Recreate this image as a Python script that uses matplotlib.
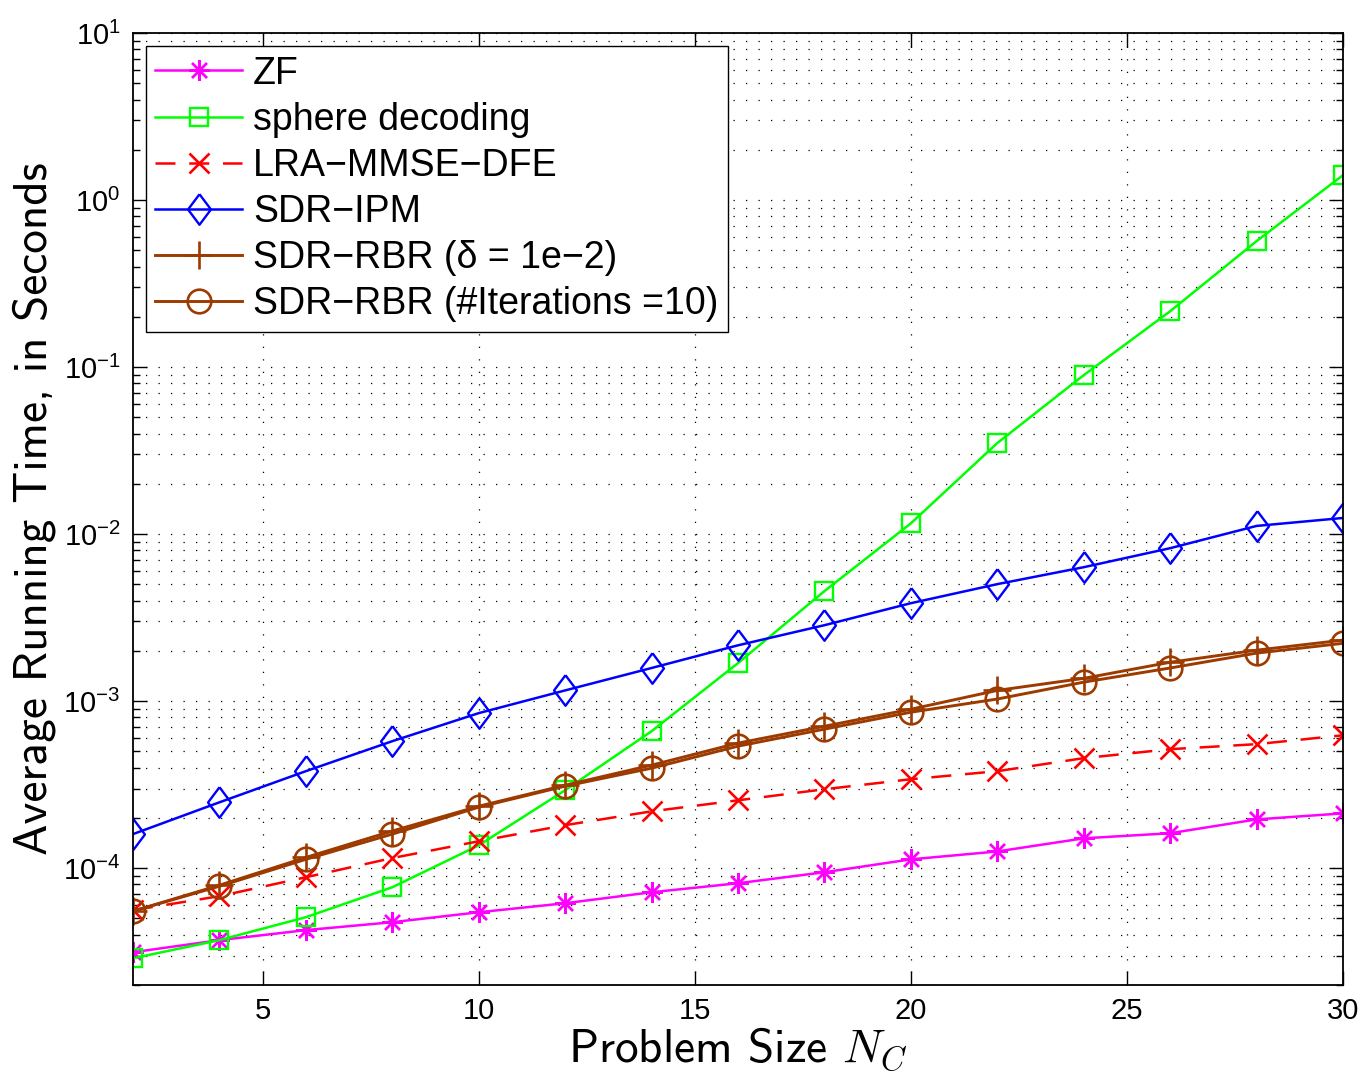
import matplotlib
matplotlib.use("Agg")
import matplotlib.pyplot as plt

# problem sizes
n_c = [2, 4, 6, 8, 10, 12, 14, 16, 18, 20, 22, 24, 26, 28, 30]

# average running time in seconds
zf = [3.14e-5, 3.71e-5, 4.26e-5, 4.75e-5, 5.45e-5, 6.17e-5, 7.18e-5, 8.13e-5,
      9.46e-5, 1.13e-4, 1.26e-4, 1.51e-4, 1.62e-4, 1.96e-4, 2.13e-4]
sphere = [2.89e-5, 3.71e-5, 5.09e-5, 7.69e-5, 1.37e-4, 2.93e-4, 6.61e-4, 1.69e-3,
          4.56e-3, 1.16e-2, 3.51e-2, 8.95e-2, 0.216, 0.568, 1.41]
lra = [5.61e-5, 6.80e-5, 8.83e-5, 1.15e-4, 1.45e-4, 1.81e-4, 2.19e-4, 2.55e-4,
       2.97e-4, 3.41e-4, 3.81e-4, 4.56e-4, 5.16e-4, 5.53e-4, 6.25e-4]
sdr_ipm = [1.60e-4, 2.48e-4, 3.81e-4, 5.76e-4, 8.48e-4, 1.16e-3, 1.58e-3, 2.16e-3,
           2.85e-3, 3.86e-3, 5.02e-3, 6.34e-3, 8.24e-3, 1.12e-2, 1.25e-2]
rbr_delta = [5.53e-5, 7.91e-5, 1.16e-4, 1.67e-4, 2.35e-4, 3.14e-4, 4.14e-4, 5.61e-4,
             7.08e-4, 8.95e-4, 1.16e-3, 1.37e-3, 1.71e-3, 2.02e-3, 2.32e-3]
rbr_iter = [5.53e-5, 7.80e-5, 1.13e-4, 1.60e-4, 2.32e-4, 3.10e-4, 3.97e-4, 5.38e-4,
            6.80e-4, 8.59e-4, 1.03e-3, 1.30e-3, 1.58e-3, 1.94e-3, 2.22e-3]

x_ticks = [5, 10, 15, 20, 25, 30]

plt.rcParams['font.family'] = ['Liberation Sans', 'DejaVu Sans']
plt.rcParams['mathtext.default'] = 'regular'

brown = '#9C3A00'
diamond = [(0, 1), (0.75, 0), (0, -1), (-0.75, 0), (0, 1)]

fig = plt.figure(figsize=(13.65, 10.76), dpi=100)
ax = fig.add_axes([0.0974, 0.0846, 0.8865, 0.8847])

ax.plot(n_c, zf, color='magenta', lw=1.8, marker=(8, 2, 0), ms=15, mew=1.7,
        label='ZF')
ax.plot(n_c, sphere, color='#00FF00', lw=1.8, marker='s', ms=13, mew=1.7,
        mfc='none', label='sphere decoding')
ax.plot(n_c, lra, color='red', lw=1.8, ls=(0, (8, 5.5)), marker='x', ms=15, mew=1.9,
        label='LRA\u2212MMSE\u2212DFE')
ax.plot(n_c, sdr_ipm, color='blue', lw=1.8, marker=diamond, ms=22, mew=1.7,
        mfc='none', label='SDR\u2212IPM')
ax.plot(n_c, rbr_delta, color=brown, lw=2.1, marker='+', ms=20, mew=1.9,
        label='SDR\u2212RBR (\u03b4 = 1e\u22122)')
ax.plot(n_c, rbr_iter, color=brown, lw=2.1, marker='o', ms=17, mew=1.9,
        mfc='none', label='SDR\u2212RBR (#Iterations =10)')

ax.set_yscale('log')
ax.set_xlim(2, 30)
ax.set_ylim(2e-5, 10)
ax.set_xticks(x_ticks)
ax.set_xticklabels([str(t) for t in x_ticks])

ax.grid(True, which='major', axis='both', color='black', ls=(0, (1, 9)), lw=0.9)
ax.grid(True, which='minor', axis='y', color='black', ls=(0, (1, 9)), lw=0.9)

ax.tick_params(which='both', direction='in', top=True, right=True,
               labelsize=21, pad=9)
ax.tick_params(which='major', length=10, width=1)
ax.tick_params(which='minor', length=5, width=1)
for s in ax.spines.values():
    s.set_linewidth(1.3)

ax.set_xlabel(r'Problem Size $\mathit{N_C}$', fontname='cmss10',
              math_fontfamily='cm', fontsize=34, labelpad=0)
ax.set_ylabel('Average Running Time, in Seconds', fontname='cmss10',
              fontsize=34, labelpad=5)

ax.legend(loc='upper left', fontsize=27, fancybox=False, edgecolor='black',
          framealpha=1, borderaxespad=0.35, handlelength=2.3, labelspacing=0.27,
          handletextpad=0.3, borderpad=0.25)

plt.savefig('out.png', dpi=100)
